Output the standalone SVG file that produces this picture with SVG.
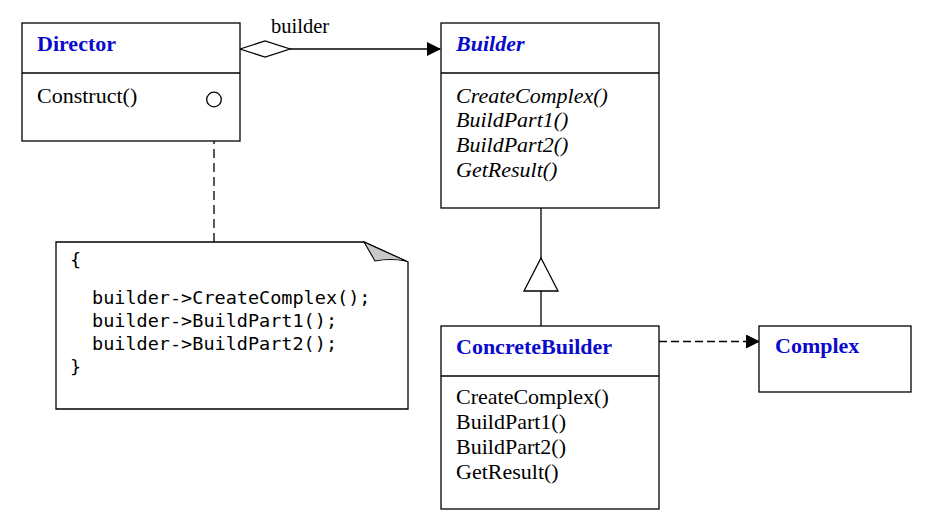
<svg xmlns="http://www.w3.org/2000/svg" width="933" height="527" viewBox="0 0 933 527">
<style>
.box{fill:#fff;stroke:#000;stroke-width:1.3}
.ln{stroke:#000;stroke-width:1.3;fill:none}
.title{font-family:"Liberation Serif",serif;font-size:22px;font-weight:bold;fill:#0a0acc}
.it{font-style:italic}
.op{font-family:"Liberation Serif",serif;font-size:22px;fill:#000}
.code{font-family:"DejaVu Sans Mono","Liberation Mono",monospace;font-size:18.5px;fill:#000}
.lbl{font-family:"Liberation Serif",serif;font-size:20.5px;fill:#000}
</style>
<defs>
<marker id="fill" viewBox="0 0 14 14" refX="13" refY="7" markerWidth="14" markerHeight="14" markerUnits="userSpaceOnUse" orient="auto">
<path d="M0,0 L14,7 L0,14 z" fill="#000"/>
</marker>
</defs>
<rect width="933" height="527" fill="#fff"/>
<g id="connectors">
<path class="ln" d="M290,49 L440,49" marker-end="url(#fill)"/>
<path class="ln" d="M240,49 L265,41 L290,49 L265,57 z" fill="#fff"/>
<text class="lbl" x="271" y="33">builder</text>
<path class="ln" d="M541,208 L541,258"/>
<path class="ln" d="M541,258 L558,291 L524,291 z" fill="#fff"/>
<path class="ln" d="M541,291 L541,326"/>
<path class="ln" d="M659,341.5 L759,341.5" stroke-dasharray="8,4" marker-end="url(#fill)"/>
<path class="ln" d="M214,107 L214,242" stroke-dasharray="9,5"/>
</g>
<g id="director">
<rect class="box" x="22" y="23" width="218" height="118"/>
<line class="ln" x1="22" y1="73" x2="240" y2="73"/>
<text class="title" x="37" y="51">Director</text>
<text class="op" x="37" y="103">Construct()</text>
<circle class="ln" cx="214" cy="99.5" r="7.3" fill="#fff"/>
</g>
<g id="builder">
<rect class="box" x="441" y="23" width="218" height="185"/>
<line class="ln" x1="441" y1="73" x2="659" y2="73"/>
<text class="title it" x="456" y="51">Builder</text>
<text class="op it" x="456" y="103">CreateComplex()</text>
<text class="op it" x="456" y="127">BuildPart1()</text>
<text class="op it" x="456" y="152">BuildPart2()</text>
<text class="op it" x="456" y="177">GetResult()</text>
</g>
<g id="concretebuilder">
<rect class="box" x="441" y="326" width="218" height="183"/>
<line class="ln" x1="441" y1="376" x2="659" y2="376"/>
<text class="title" x="456" y="354">ConcreteBuilder</text>
<text class="op" x="456" y="404">CreateComplex()</text>
<text class="op" x="456" y="429">BuildPart1()</text>
<text class="op" x="456" y="454">BuildPart2()</text>
<text class="op" x="456" y="479">GetResult()</text>
</g>
<g id="complex">
<rect class="box" x="759" y="326" width="152" height="66"/>
<text class="title" x="775" y="353">Complex</text>
</g>
<g id="note">
<path class="ln" d="M56,242 L364,242 L408,262 L408,409 L56,409 z" fill="#fff"/>
<path d="M364,242 L375,261 Q390,258 406,261 z" fill="#c8c8c8" stroke="#000" stroke-width="1.1"/>
<text class="code" x="70" y="266">{</text>
<text class="code" x="92" y="304">builder-&gt;CreateComplex();</text>
<text class="code" x="92" y="327">builder-&gt;BuildPart1();</text>
<text class="code" x="92" y="350">builder-&gt;BuildPart2();</text>
<text class="code" x="70" y="373">}</text>
</g>
</svg>
